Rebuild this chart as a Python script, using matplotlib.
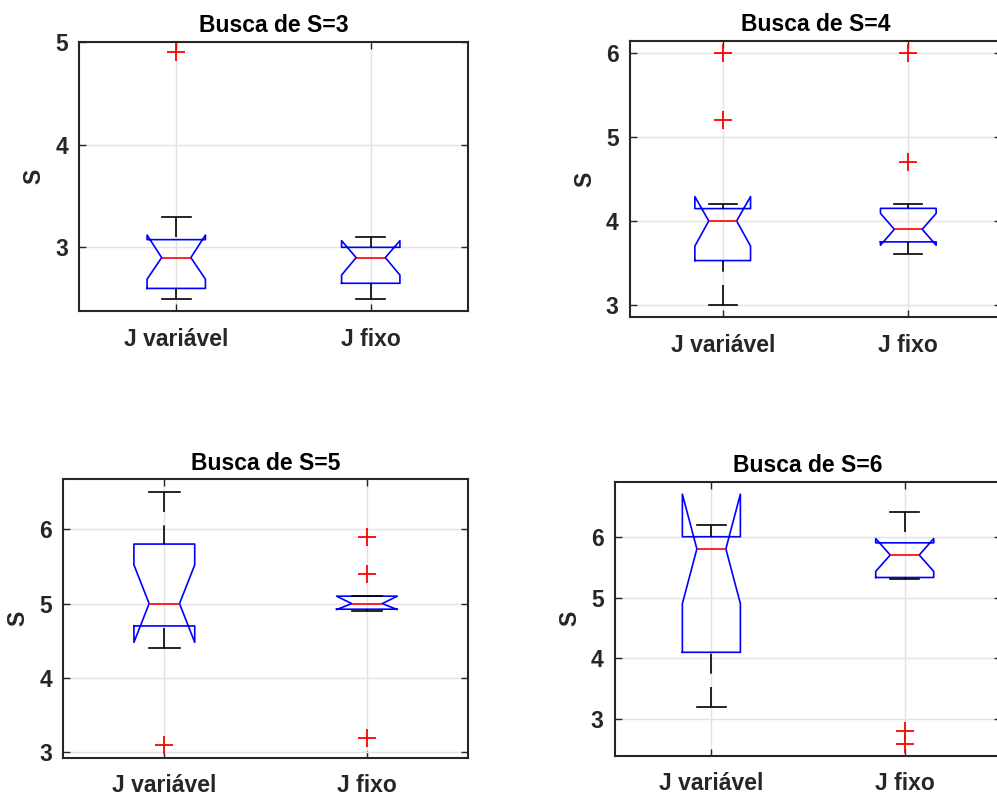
import numpy as np
import matplotlib.pyplot as plt

plt.rcParams['font.family'] = ['Liberation Sans', 'DejaVu Sans']
plt.rcParams['font.weight'] = 'bold'

labels = ['J variável', 'J fixo']
titles = ['Busca de S=3', 'Busca de S=4', 'Busca de S=5', 'Busca de S=6']

# per panel: [J variavel, J fixo] -> (whislo, q1, med, q3, whishi, cilo, cihi, fliers)
s3 = [(2.5, 2.6, 2.9, 3.075, 3.3, 2.69, 3.12, [4.9]),
      (2.5, 2.65, 2.9, 3.0, 3.1, 2.73, 3.065, [])]
s4 = [(3.0, 3.527, 4.0, 4.147, 4.2, 3.70, 4.29, [6.0, 5.2]),
      (3.6, 3.75, 3.9, 4.15, 4.2, 3.71, 4.09, [6.0, 4.7])]
s5 = [(4.4, 4.7, 5.0, 5.8, 6.5, 4.48, 5.52, [3.1]),
      (4.9, 4.925, 5.0, 5.1, 5.1, 4.92, 5.1, [5.9, 5.4, 3.2])]
s6 = [(3.2, 4.1, 5.8, 6.0, 6.2, 4.9, 6.7, []),
      (5.3, 5.33, 5.7, 5.9, 6.4, 5.43, 5.97, [2.8, 2.6])]
panels = [s3, s4, s5, s6]

ylims = [(2.38, 5.0), (2.85, 6.147), (2.93, 6.67), (2.40, 6.9)]
yticks = [[3, 4, 5], [3, 4, 5, 6], [3, 4, 5, 6], [3, 4, 5, 6]]

# axes rectangles in pixels: left, top, width, height
W, H = 997, 794
rects = [(79, 42, 389, 269), (629.9, 41, 371.2, 276.3),
         (63, 479.3, 405.3, 278.4), (614.7, 482, 386.7, 273.7)]

fig = plt.figure(figsize=(W / 100, H / 100), dpi=100)

for i in range(4):
    l, t, w, h = rects[i]
    ax = fig.add_axes([l / W, 1 - (t + h) / H, w / W, h / H])
    stats = []
    for (wlo, q1, med, q3, whi, clo, chi, fl) in panels[i]:
        stats.append(dict(whislo=wlo, q1=q1, med=med, q3=q3, whishi=whi,
                          cilo=clo, cihi=chi, fliers=fl))
    bp = ax.bxp(stats, positions=[1, 2], widths=0.3, shownotches=True,
                boxprops=dict(color='blue', lw=1.2),
                medianprops=dict(color='red', lw=1.2),
                whiskerprops=dict(color='black', lw=1.2, linestyle=(0, (12, 8))),
                capprops=dict(color='black', lw=1.2),
                flierprops=dict(marker='+', markeredgecolor='red', markersize=13,
                                markeredgewidth=1.3, linestyle='none'))
    # dash pattern starts from the cap end, like matlab
    for wl in bp['whiskers']:
        x, y = wl.get_data()
        wl.set_data(x[::-1], y[::-1])
    for f in bp['fliers']:
        f.set_clip_on(False)

    ax.set_xlim(0.5, 2.5)
    ax.set_ylim(ylims[i])
    ax.set_yticks(yticks[i])
    ax.set_xticks([1, 2])
    ax.set_xticklabels(labels)
    ax.set_axisbelow(True)
    ax.grid(True, color='#e3e3e3', lw=1.0)
    ax.tick_params(direction='in', top=True, right=True, length=5, width=1.0,
                   colors='#262626', labelsize=16.5, pad=8)
    ax.tick_params(axis='x', pad=12)
    for sp in ax.spines.values():
        sp.set_color('#262626')
        sp.set_linewidth(1.5)
    ax.set_ylabel('S', fontsize=16.5, fontweight='bold', color='#262626', labelpad=7)
    ax.set_title(titles[i], fontsize=16.5, fontweight='bold', pad=7)

plt.savefig('out.png', dpi=100)
